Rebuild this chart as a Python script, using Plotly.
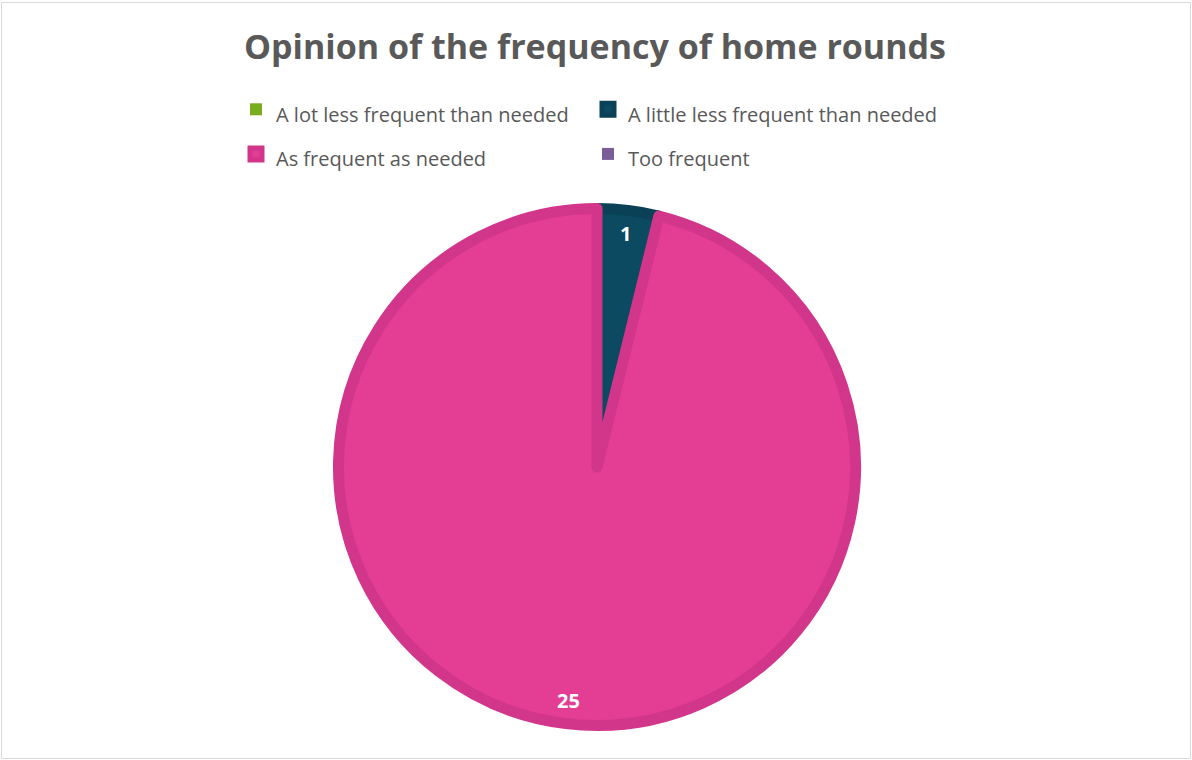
import math
import plotly.graph_objects as go

# Data
categories = [
    "A lot less frequent than needed",
    "A little less frequent than needed",
    "As frequent as needed",
    "Too frequent",
]
counts = [0, 1, 25, 0]

fill_colors = ["#78AC1E", "#0C4A61", "#E33D94", "#7A5C99"]
edge_colors = ["#6C9B1B", "#0A4157", "#D2368A", "#6E538A"]

W, H = 1192, 760
ML, MR = 0, 200            # right margin keeps the horizontal legend at 2 columns
PW = W - ML - MR           # plot-area width (paper units refer to it)
cx, cy, r = 597, 467, 258.5
edge_w = 11
label_r = 0.89 * (r + edge_w / 2)

legend_labels = ['<span style="font-size:20px">%s</span>' % c for c in categories]

fig = go.Figure(
    go.Pie(
        labels=legend_labels,
        values=counts,
        sort=False,
        direction="clockwise",
        rotation=0,
        marker=dict(
            colors=fill_colors,
            line=dict(color=edge_colors, width=[edge_w if v > 0 else 0 for v in counts]),
        ),
        textinfo="none",
        domain=dict(x=[(cx - ML - r) / PW, (cx - ML + r) / PW],
                    y=[(H - cy - r) / H, (H - cy + r) / H]),
        hoverinfo="label+value",
    )
)

# Data labels placed along each slice's mid-angle (clockwise from 12 o'clock)
total = sum(counts)
cum = 0
annotations = []
for v in counts:
    if v > 0:
        mid = 2 * math.pi * (cum + v / 2) / total
        px = cx + label_r * math.sin(mid)
        py = cy - label_r * math.cos(mid)
        annotations.append(dict(
            text="<b>%d</b>" % v,
            x=(px - ML) / PW, y=(H - py) / H,
            xref="paper", yref="paper",
            xanchor="center", yanchor="middle",
            showarrow=False,
            font=dict(family="Open Sans", size=20, color="white"),
        ))
    cum += v

fig.update_layout(
    width=W,
    height=H,
    margin=dict(l=ML, r=MR, t=0, b=0),
    paper_bgcolor="white",
    plot_bgcolor="white",
    title=dict(
        text="<b>Opinion of the frequency of home rounds</b>",
        xref="container",
        x=595 / W,
        xanchor="center",
        yref="container",
        y=1 - 47 / H,
        yanchor="middle",
        font=dict(family="Open Sans", size=34, color="#595959"),
    ),
    legend=dict(
        orientation="h",
        x=(236 - ML) / PW,
        xanchor="left",
        y=1 - 82 / H,
        yanchor="top",
        entrywidth=307,
        entrywidthmode="pixels",
        bgcolor="rgba(0,0,0,0)",
        font=dict(family="Open Sans", size=32, color="#595959"),
        traceorder="normal",
    ),
    annotations=annotations,
    shapes=[
        dict(
            type="rect",
            xref="paper",
            yref="paper",
            x0=(1.5 - ML) / PW,
            x1=(W - 1.5 - ML) / PW,
            y0=1.5 / H,
            y1=1 - 2.5 / H,
            line=dict(color="#D9D9D9", width=1),
            fillcolor="rgba(0,0,0,0)",
            layer="below",
        )
    ],
)

fig.write_html("out.html")
